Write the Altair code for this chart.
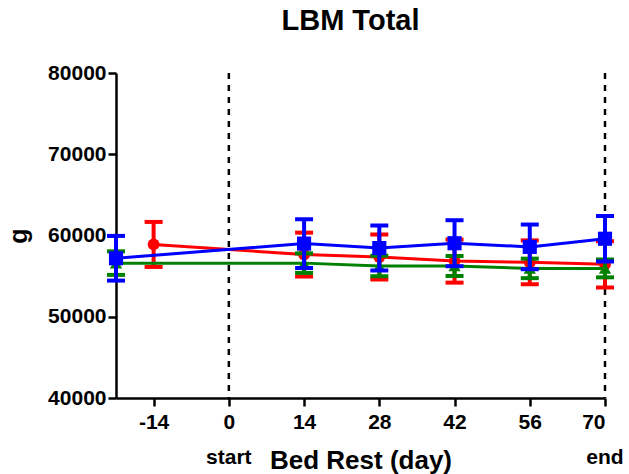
import altair as alt
import pandas as pd

# Lean body mass (g) by bed-rest day: mean and SD per group
days_blue = [-21, 14, 28, 42, 56, 70]
mean_blue = [57200, 59000, 58450, 59050, 58600, 59600]
sd_blue = [2750, 3000, 2770, 2830, 2750, 2800]

days_red = [-14, 14, 28, 42, 56, 70]
mean_red = [58900, 57650, 57350, 56850, 56700, 56450]
sd_red = [2770, 2700, 2770, 2650, 2700, 2850]

days_green = [-21, 14, 28, 42, 56, 70]
mean_green = [56600, 56600, 56250, 56250, 55950, 55950]
sd_green = [1450, 1200, 1270, 1230, 1200, 1100]

x_ticks = [-14, 0, 14, 28, 42, 56, 70]
y_ticks = [40000, 50000, 60000, 70000, 80000]
phase_days = [0, 70]
phase_labels = ["start", "end"]

FONT = "Liberation Sans"
W, H = 489, 325

x_scale = alt.Scale(domain=[-21, 70], nice=False, zero=False)
y_scale = alt.Scale(domain=[40000, 80000], nice=False, zero=False)


def frame(days, mean, sd):
    return pd.DataFrame({
        "day": days,
        "mean": mean,
        "lo": [m - s for m, s in zip(mean, sd)],
        "hi": [m + s for m, s in zip(mean, sd)],
    })


def series(df, color, shape, size):
    base = alt.Chart(df)
    x = alt.X("day:Q", scale=x_scale)
    line = base.mark_line(color=color, strokeWidth=3).encode(
        x=x, y=alt.Y("mean:Q", scale=y_scale))
    bar = base.mark_rule(color=color, strokeWidth=4).encode(
        x=x, y=alt.Y("lo:Q", scale=y_scale), y2="hi:Q")
    cap_lo = base.mark_tick(color=color, orient="horizontal", size=18,
                            thickness=4, opacity=1).encode(
        x=x, y=alt.Y("lo:Q", scale=y_scale))
    cap_hi = base.mark_tick(color=color, orient="horizontal", size=18,
                            thickness=4, opacity=1).encode(
        x=x, y=alt.Y("hi:Q", scale=y_scale))
    pts = base.mark_point(color=color, shape=shape, filled=True, size=size,
                          opacity=1).encode(
        x=x, y=alt.Y("mean:Q", scale=y_scale))
    return [line, bar, cap_lo, cap_hi, pts]


phase_df = pd.DataFrame({"day": phase_days, "label": phase_labels})

# dashed markers for the start and end of bed rest, carrying the x axis
axes = alt.Chart(phase_df).mark_rule(
    color="black", strokeWidth=2.5, strokeDash=[6, 6]
).encode(
    x=alt.X("day:Q", scale=x_scale,
            axis=alt.Axis(values=x_ticks, title="Bed Rest (day)",
                          labelExpr="toString(datum.value)",
                          labelPadding=5, titlePadding=15, titleFontSize=26)),
)

phase_text = alt.Chart(phase_df).mark_text(
    font=FONT, fontSize=21, fontWeight="bold", color="black", baseline="middle"
).encode(
    x=alt.X("day:Q", scale=x_scale),
    y=alt.value(385),
    text="label:N",
)

y_axis_layer = alt.Chart(phase_df).mark_point(opacity=0).encode(
    y=alt.Y("y:Q", scale=y_scale,
            axis=alt.Axis(values=y_ticks, title="g",
                          labelExpr="toString(datum.value)",
                          titlePadding=16, titleFontSize=25)),
).transform_calculate(y="60000")

layers = [axes, y_axis_layer]
layers += series(frame(days_red, mean_red, sd_red), "#ff0000", "circle", 140)
layers += series(frame(days_green, mean_green, sd_green), "#008000", "triangle-up", 150)
layers += series(frame(days_blue, mean_blue, sd_blue), "#0000ff", "square", 200)
layers += [phase_text]

chart = alt.layer(*layers).properties(
    width=W,
    height=H,
    title=alt.TitleParams("LBM Total", font=FONT, fontSize=29, fontWeight="bold",
                          color="black", anchor="middle", dx=-10, offset=26),
    autosize=alt.AutoSizeParams(type="none"),
    padding={"left": 116, "top": 73, "right": 24, "bottom": 76},
).configure_view(stroke=None).configure_axis(
    labelFont=FONT, labelFontSize=21, labelFontWeight="bold", labelColor="black",
    titleFont=FONT, titleFontWeight="bold", titleColor="black",
    domainColor="black", domainWidth=2.5, tickColor="black", tickWidth=2.5,
    tickSize=8, grid=False,
)

chart.save("out.html", embed_options={"renderer": "svg", "actions": False})
